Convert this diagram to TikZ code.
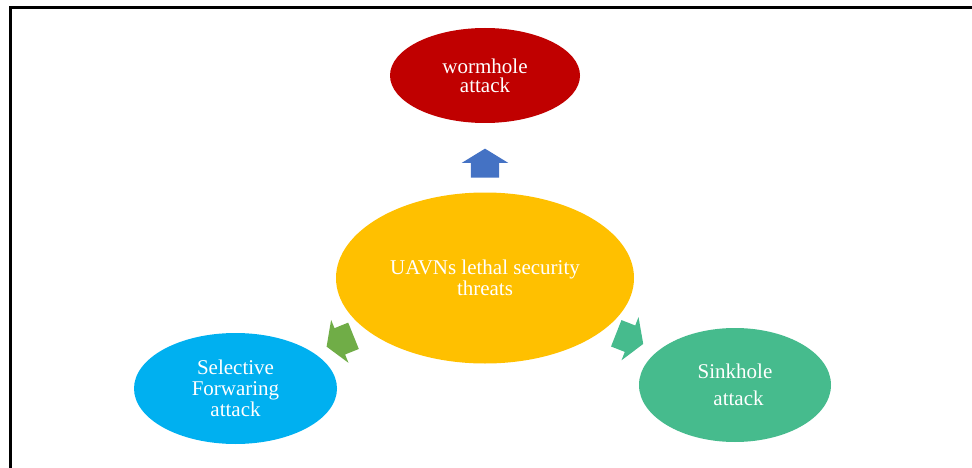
\documentclass[tikz,border=0pt]{standalone}
\usepackage{fontspec}
\setmainfont{Liberation Serif}
\usetikzlibrary{shapes.geometric,shapes.arrows}

\definecolor{wormred}{HTML}{C00000}
\definecolor{threatyellow}{HTML}{FFC000}
\definecolor{fwdblue}{HTML}{00B0F0}
\definecolor{sinkgreen}{HTML}{46BB8D}
\definecolor{arrowblue}{HTML}{4472C4}
\definecolor{arrowgreen}{HTML}{70AD47}

\tikzset{
  attack/.style={ellipse,inner sep=0pt,align=center,text=white,
    font=\fontsize{21}{21}\selectfont},
  blockarrow/.style={single arrow,draw=none,inner sep=0pt,
    minimum height=29pt,
    single arrow tip angle=117,single arrow head extend=9pt}
}
\newcommand{\shaft}{\rule{0pt}{28pt}}

\begin{document}
\begin{tikzpicture}[x=1pt,y=-1pt]
        \useasboundingbox (0,0) rectangle (972,468);
        % Frame
        \draw[line width=3pt] (10.5,468) -- (10.5,8) -- (972,8);
        % Threats
        \node[attack,fill=threatyellow,minimum width=298pt,minimum height=171pt] (threats) at (485,278) {UAVNs lethal security\\threats};
        \node[attack,fill=wormred,minimum width=190pt,minimum height=95pt] (worm) at (485,75.5) {wormhole\\[-2pt]attack};
        \node[attack,fill=fwdblue,minimum width=203pt,minimum height=111pt] (selfwd) at (235.5,388.5) {Selective\\Forwaring\\attack};
        \node[attack,fill=sinkgreen,minimum width=192pt,minimum height=114pt] (sink) at (735,385) {Sinkhole\\[6pt]\,\,attack};
        % Arrows
        \node[blockarrow,fill=arrowblue,rotate=90] (toworm) at (485,167.5) {\shaft};
        \node[blockarrow,fill=arrowgreen,rotate=202] (tofwd) at (344.1,339.6) {\shaft};
        \node[blockarrow,fill=sinkgreen,rotate=-21.5] (tosink) at (625.7,337) {\shaft};
    \end{tikzpicture}
\end{document}
